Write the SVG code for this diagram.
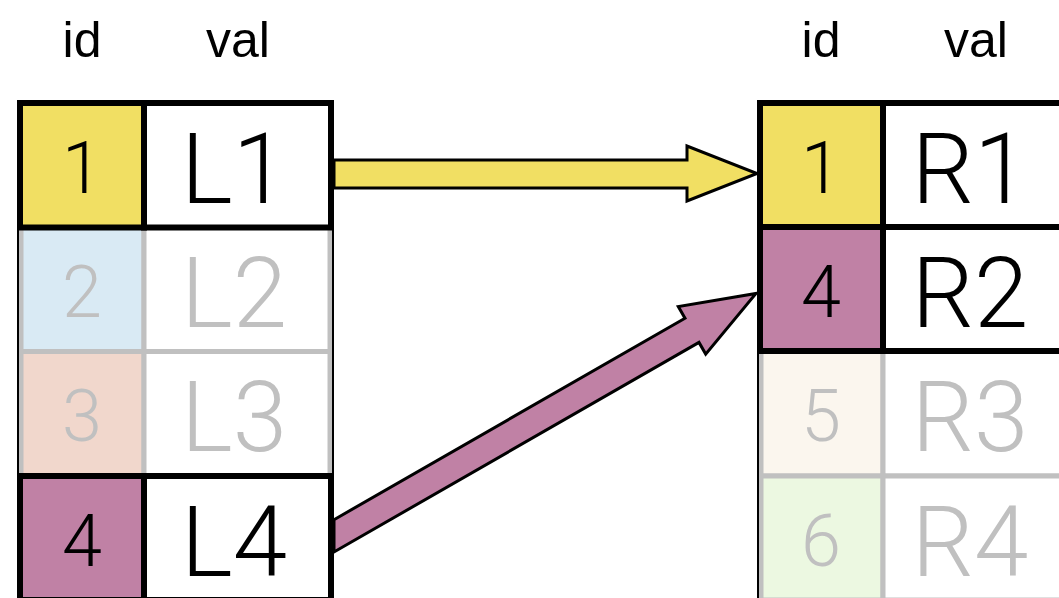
<svg xmlns="http://www.w3.org/2000/svg" width="1059" height="598" viewBox="0 0 1059 598">
<style>
.hdr{font-family:"Liberation Sans",Arial,sans-serif;font-size:50px;fill:#000;text-anchor:middle}
.idt{font-family:Roboto,"DejaVu Sans",sans-serif;font-weight:300;font-size:72px;text-anchor:middle}
.vt{font-family:Roboto,"DejaVu Sans",sans-serif;font-weight:300;font-size:98px;text-anchor:middle}
.on{fill:#000}
.off{fill:#c0c0c0}
.bc{stroke:#000;stroke-width:6}
.gc{stroke:#c0c0c0;stroke-width:5}
.frame{fill:none;stroke:#000;stroke-width:2}
.arrow{stroke:#000;stroke-width:3;stroke-linejoin:miter}
</style>
<rect width="1059" height="598" fill="#fff"/>
<g id="headers">
<text class="hdr" x="82" y="57">id</text>
<text class="hdr" x="238" y="57">val</text>
<text class="hdr" x="821" y="57">id</text>
<text class="hdr" x="976" y="57">val</text>
</g>
<g id="left-table">
<g id="L-row2">
<rect class="gc" x="21" y="227.5" width="123" height="124" fill="#d9eaf4"/>
<rect class="gc" x="144" y="227.5" width="186" height="124" fill="#fff"/>
<text class="idt off" x="82" y="317">2</text>
<text class="vt off" x="234" y="327">L2</text>
</g>
<g id="L-row3">
<rect class="gc" x="21" y="351.5" width="123" height="124.5" fill="#f1d7cc"/>
<rect class="gc" x="144" y="351.5" width="186" height="124.5" fill="#fff"/>
<text class="idt off" x="82" y="441">3</text>
<text class="vt off" x="234" y="451">L3</text>
</g>
<g id="L-row1">
<rect class="bc" x="20" y="103" width="124" height="124.5" fill="#f1df63"/>
<rect class="bc" x="144" y="103" width="187" height="124.5" fill="#fff"/>
<text class="idt on" x="82" y="193">1</text>
<text class="vt on" x="234" y="203">L1</text>
</g>
<g id="L-row4">
<rect class="bc" x="20" y="476" width="124" height="124" fill="#c081a5"/>
<rect class="bc" x="144" y="476" width="187" height="124" fill="#fff"/>
<text class="idt on" x="82" y="566">4</text>
<text class="vt on" x="234" y="576">L4</text>
</g>
<rect class="frame" x="18" y="101" width="315" height="520"/>
</g>
<g id="right-table">
<g id="R-row3">
<rect class="gc" x="761" y="351" width="122" height="125" fill="#fbf6ee"/>
<rect class="gc" x="883" y="351" width="200" height="125" fill="#fff"/>
<text class="idt off" x="821" y="441">5</text>
<text class="vt off" x="970" y="451">R3</text>
</g>
<g id="R-row4">
<rect class="gc" x="761" y="476" width="122" height="124" fill="#ecf8e1"/>
<rect class="gc" x="883" y="476" width="200" height="124" fill="#fff"/>
<text class="idt off" x="821" y="566">6</text>
<text class="vt off" x="970" y="576">R4</text>
</g>
<g id="R-row1">
<rect class="bc" x="760" y="103" width="123" height="124" fill="#f1df63"/>
<rect class="bc" x="883" y="103" width="200" height="124" fill="#fff"/>
<text class="idt on" x="821" y="193">1</text>
<text class="vt on" x="970" y="203">R1</text>
</g>
<g id="R-row2">
<rect class="bc" x="760" y="227" width="123" height="124" fill="#c081a5"/>
<rect class="bc" x="883" y="227" width="200" height="124" fill="#fff"/>
<text class="idt on" x="821" y="317">4</text>
<text class="vt on" x="970" y="327">R2</text>
</g>
<rect class="frame" x="758" y="101" width="340" height="520"/>
</g>
<g id="connectors">
<polygon class="arrow" fill="#f1df63" points="334,160 687,160 687,146 757,173.5 687,201 687,188 334,188"/>
<polygon class="arrow" fill="#c081a5" points="334,519.7 685,318.2 678.3,306.5 756,293.5 705.7,354.1 699,342.4 334,552"/>
</g>
</svg>
